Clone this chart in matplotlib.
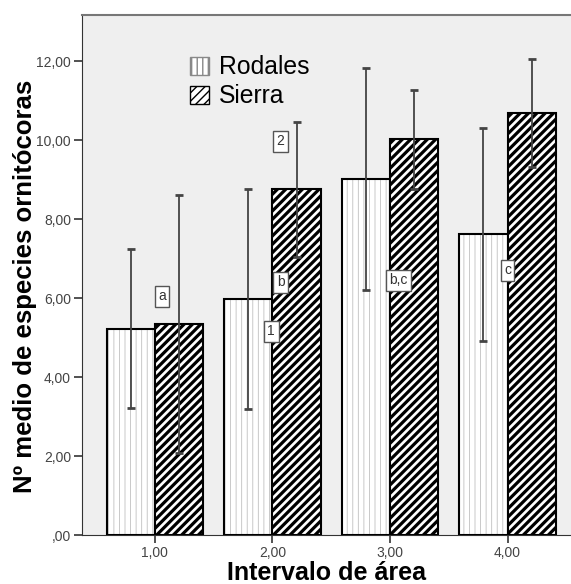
import numpy as np
import matplotlib.pyplot as plt
from matplotlib.patches import Patch

plt.rcParams['font.family'] = ['Liberation Sans', 'DejaVu Sans']

# Datos
intervalos = [1, 2, 3, 4]
etiquetas = ['1,00', '2,00', '3,00', '4,00']
rodales = [5.22, 5.97, 9.01, 7.62]
rodales_inf = [3.22, 3.19, 6.20, 4.91]
rodales_sup = [7.24, 8.76, 11.82, 10.30]
sierra = [5.34, 8.76, 10.02, 10.68]
sierra_inf = [2.08, 7.04, 8.76, 9.32]
sierra_sup = [8.61, 10.46, 11.27, 12.05]

# Letras y numeros de comparacion
letras = ['a', 'b', 'b,c', 'c']
letras_x = [1.06, 2.07, 3.07, 4.00]
letras_y = [6.05, 6.40, 6.45, 6.70]
numeros = ['1', '2']
numeros_x = [1.99, 2.07]
numeros_y = [5.16, 9.97]

x = np.array(intervalos, dtype=float)
rodales = np.array(rodales)
sierra = np.array(sierra)
ancho = 0.41

fig = plt.figure(figsize=(5.71, 5.84), dpi=100)
ax = fig.add_axes([0.1436, 0.0839, 0.8564, 0.8904])
ax.set_facecolor('#efefef')

# Barras Rodales (punteado gris)
with plt.rc_context({'hatch.linewidth': 0.6}):
    b1 = ax.bar(x - ancho / 2, rodales, ancho, color='white', edgecolor='#c0c0c0',
                hatch='|||', linewidth=0, zorder=2)
    h1 = Patch(facecolor='white', edgecolor='#888888', hatch='|||')
ax.bar(x - ancho / 2, rodales, ancho, color='none', edgecolor='black',
       linewidth=1.5, zorder=3)

# Barras Sierra (rayado)
with plt.rc_context({'hatch.linewidth': 2.3}):
    b2 = ax.bar(x + ancho / 2, sierra, ancho, color='white', edgecolor='black',
                hatch='////', linewidth=1.5, zorder=3)
    h2 = Patch(facecolor='white', edgecolor='black', hatch='////')

# Barras de error
r_err = [rodales - np.array(rodales_inf), np.array(rodales_sup) - rodales]
s_err = [sierra - np.array(sierra_inf), np.array(sierra_sup) - sierra]
ax.errorbar(x - ancho / 2, rodales, yerr=r_err, fmt='none', ecolor='#444444',
            elinewidth=1.3, capsize=3, capthick=2, zorder=4)
ax.errorbar(x + ancho / 2, sierra, yerr=s_err, fmt='none', ecolor='#444444',
            elinewidth=1.3, capsize=3, capthick=2, zorder=4)

caja = dict(boxstyle='square,pad=0.25', facecolor='white', edgecolor='#555555', linewidth=1)
for t, xx, yy in zip(letras, letras_x, letras_y):
    ax.text(xx, yy, t, ha='center', va='center', fontsize=10, color='#333333',
            bbox=caja, zorder=5)
for t, xx, yy in zip(numeros, numeros_x, numeros_y):
    ax.text(xx, yy, t, ha='center', va='center', fontsize=10, color='#333333',
            bbox=caja, zorder=5)

ax.set_xlim(0.38, 4.54)
ax.set_ylim(0, 13.17)
ax.set_xticks(x)
ax.set_xticklabels(etiquetas)
ax.set_yticks([0, 2, 4, 6, 8, 10, 12])
ax.set_yticklabels([',00', '2,00', '4,00', '6,00', '8,00', '10,00', '12,00'])
ax.tick_params(axis='both', labelsize=10, labelcolor='#444444', color='#333333',
               length=6, width=1.2)
ax.tick_params(axis='x', pad=2)
ax.tick_params(axis='y', pad=2)

ax.spines['top'].set_color('#777777')
ax.spines['top'].set_linewidth(1.5)
ax.spines['left'].set_color('#333333')
ax.spines['bottom'].set_color('#333333')
ax.spines['right'].set_visible(False)

ax.set_xlabel('Intervalo de área', fontsize=18, fontweight='bold')
ax.xaxis.set_label_coords(0.5, -0.05)
ax.set_ylabel('Nº medio de especies ornitócoras', fontsize=18.5, fontweight='bold')
ax.yaxis.set_label_coords(-0.092, 0.479)

ax.legend([h1, h2], ['Rodales', 'Sierra'], loc='upper left',
          bbox_to_anchor=(0.176, 0.965), frameon=False, fontsize=17.8,
          handlelength=0.77, handleheight=0.75, handletextpad=0.4, labelspacing=0.2)

fig.savefig('out.png', dpi=100)
